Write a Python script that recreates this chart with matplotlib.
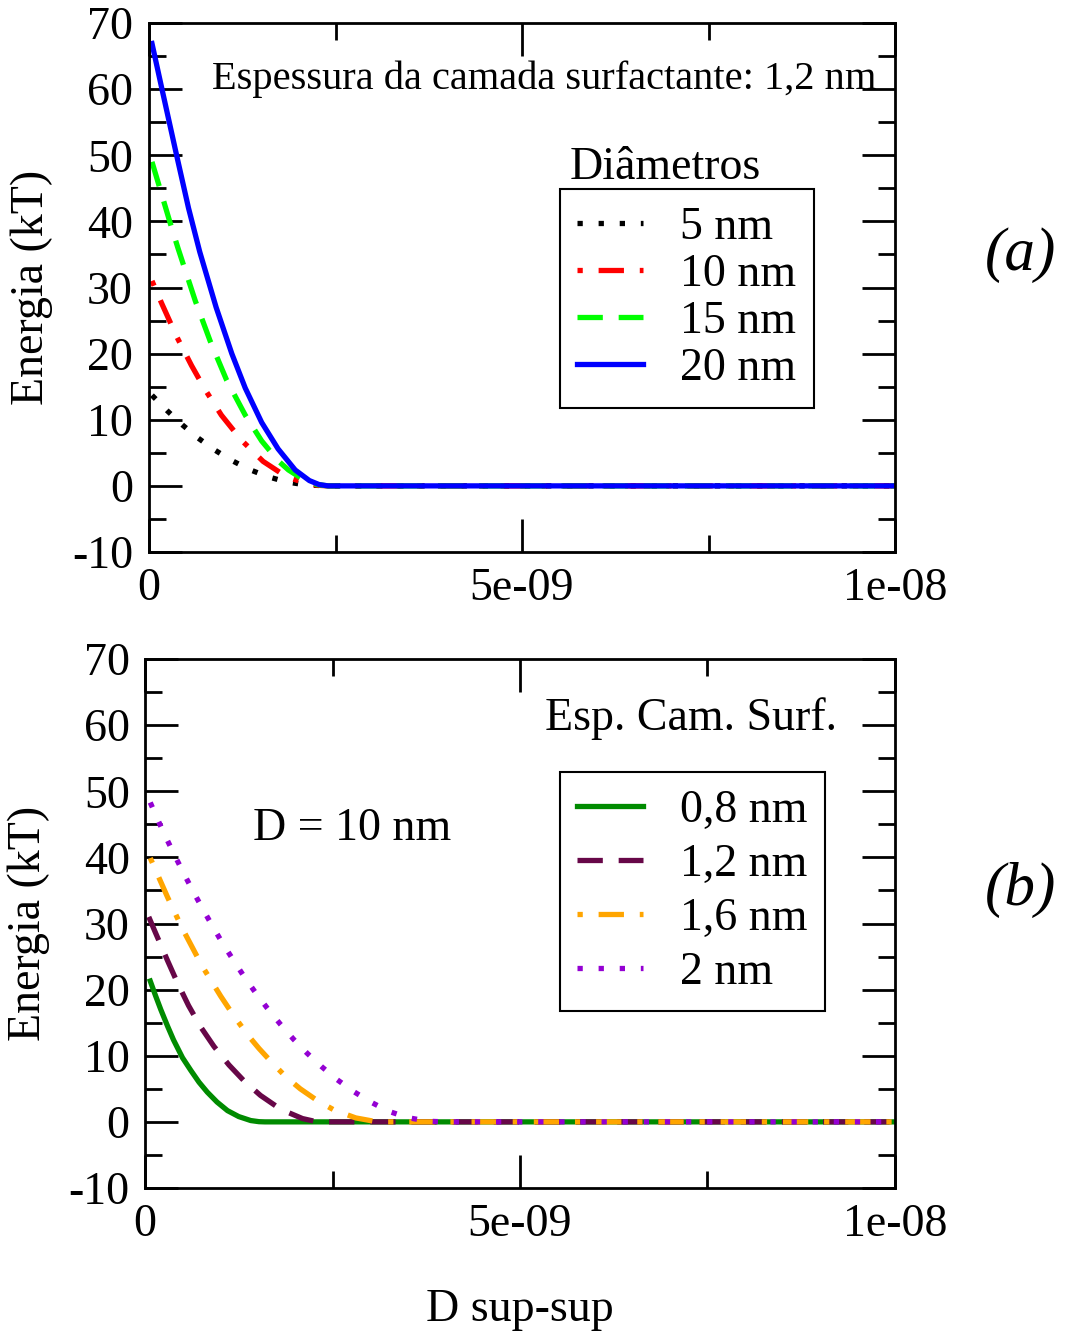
import numpy as np
import matplotlib
matplotlib.use("Agg")
from matplotlib import pyplot as plt

plt.rcParams['font.family'] = ['Liberation Serif', 'DejaVu Serif']
plt.rcParams['axes.unicode_minus'] = False

# panel (a): surfactant layer 1,2 nm, different diameters (x in nm, energy in kT)
s_5nm = [0.04, 0.25, 0.45, 0.65, 0.87, 1.10, 1.34, 1.59, 1.84, 2.10, 2.40, 10.0]
e_5nm = [13.7, 11.3, 9.2, 7.3, 5.5, 3.9, 2.5, 1.4, 0.6, 0.15, 0.0, 0.0]
s_10nm = [0.04, 0.17, 0.37, 0.57, 0.75, 0.97, 1.24, 1.53, 1.84, 2.10, 2.25, 2.40, 10.0]
e_10nm = [31.0, 27.6, 22.6, 18.2, 14.6, 10.7, 6.9, 3.7, 1.4, 0.4, 0.1, 0.0, 0.0]
s_15nm = [0.04, 0.28, 0.39, 0.62, 0.82, 1.04, 1.29, 1.51, 1.73, 1.87, 2.10, 2.25, 2.40, 10.0]
e_15nm = [49.0, 39.9, 35.9, 28.0, 21.9, 16.0, 10.7, 6.8, 3.8, 2.4, 0.75, 0.2, 0.0, 0.0]
s_20nm = [0.04, 0.17, 0.37, 0.53, 0.68, 0.90, 1.11, 1.29, 1.51, 1.73, 1.96, 2.15, 2.28, 2.40, 10.0]
e_20nm = [66.9, 60.2, 50.0, 42.0, 35.4, 27.0, 20.0, 14.8, 9.6, 5.6, 2.4, 0.8, 0.2, 0.0, 0.0]

# panel (b): D = 10 nm, different layer thicknesses
s_08 = [0.07, 0.14, 0.21, 0.30, 0.38, 0.50, 0.61, 0.72, 0.83, 0.96, 1.10, 1.25, 1.41,
        1.52, 1.60, 10.0]
e_08 = [21.3, 19.1, 17.0, 14.5, 12.4, 9.7, 7.8, 6.0, 4.5, 3.0, 1.7, 0.8, 0.2,
        0.03, 0.0, 0.0]
s_12 = [0.05, 0.14, 0.30, 0.43, 0.58, 0.74, 0.92, 1.12, 1.32, 1.54, 1.81, 2.10, 2.25, 2.40, 10.0]
e_12 = [31.0, 28.6, 24.4, 21.1, 17.6, 14.4, 11.4, 8.6, 6.2, 4.0, 1.9, 0.5, 0.12, 0.0, 0.0]
s_16 = [0.07, 0.30, 0.50, 0.76, 1.01, 1.18, 1.38, 1.52, 1.69, 1.88, 2.07, 2.30, 2.52,
        2.81, 3.05, 3.20, 10.0]
e_16 = [39.9, 34.0, 29.2, 23.6, 19.0, 16.1, 13.0, 11.1, 9.0, 6.8, 5.0, 3.2, 1.8,
        0.6, 0.1, 0.0, 0.0]
s_20 = [0.07, 0.17, 0.28, 0.40, 0.52, 0.64, 0.76, 0.89, 1.03, 1.17, 1.32, 1.47, 1.63,
        1.81, 1.98, 2.16, 2.35, 2.56, 2.78, 3.01, 3.25, 3.50, 3.77, 4.00, 10.0]
e_20 = [48.3, 45.7, 43.0, 40.2, 37.5, 34.9, 32.4, 29.8, 27.1, 24.6, 22.0, 19.6, 17.2,
        14.7, 12.5, 10.4, 8.4, 6.4, 4.6, 3.0, 1.6, 0.65, 0.1, 0.0, 0.0]

labels_a = ['5 nm', '10 nm', '15 nm', '20 nm']
labels_b = ['0,8 nm', '1,2 nm', '1,6 nm', '2 nm']
xticks = [0, 5e-9, 1e-8]
yticks = list(range(-10, 71, 10))

DOT = (0, (1, 3))
DASH = (0, (4.8, 3))
DASHDOT = (0, (1, 3, 4.8, 3))
LW = 3.8
FS = 33

W, H = 1065, 1331
fig = plt.figure(figsize=(W / 100, H / 100), dpi=100)


def px_axes(l, t, r, b):
    return fig.add_axes([l / W, 1 - b / H, (r - l) / W, (b - t) / H])


def style(ax, ypad):
    ax.set_xlim(0, 1e-8)
    ax.set_ylim(-10, 70)
    ax.set_xticks(xticks, [f'{v:g}' for v in xticks])
    ax.set_xticks([2.5e-9, 7.5e-9], minor=True)
    ax.set_yticks(yticks, [str(v) for v in yticks])
    ax.set_yticks(np.arange(-5, 70, 10), minor=True)
    ax.tick_params(which='both', direction='in', top=True, right=True, width=2,
                   labelsize=FS)
    ax.tick_params(which='major', length=24)
    ax.tick_params(which='minor', length=12)
    ax.tick_params(axis='x', pad=11)
    ax.tick_params(axis='y', pad=ypad)
    for sp in ax.spines.values():
        sp.set_linewidth(2)


def legend(ax, anchor, spacing):
    leg = ax.legend(loc='upper left', bbox_to_anchor=anchor, borderaxespad=0,
                    fontsize=FS, frameon=True, fancybox=False, edgecolor='black',
                    framealpha=1, handlelength=1.44, handletextpad=0.8,
                    borderpad=0.38, labelspacing=spacing)
    leg.get_frame().set_linewidth(1.5)


nm = 1e-9

# (a)
ax1 = px_axes(149, 23, 895, 552)
ax1.plot(np.array(s_5nm) * nm, e_5nm, color='black', lw=LW, ls=DOT, label=labels_a[0])
ax1.plot(np.array(s_10nm) * nm, e_10nm, color='#ff0000', lw=LW, ls=DASHDOT, label=labels_a[1])
ax1.plot(np.array(s_15nm) * nm, e_15nm, color='#00ff00', lw=LW, ls=DASH, label=labels_a[2])
ax1.plot(np.array(s_20nm) * nm, e_20nm, color='#0000ff', lw=LW, ls='-', label=labels_a[3])
style(ax1, 11.5)
ax1.set_ylabel('Energia (kT)', fontsize=FS)
ax1.yaxis.set_label_coords(-0.129, 0.5)
legend(ax1, ((560 - 149) / 746, (552 - 189) / 529), 0.1)

# (b)
ax2 = px_axes(145, 659, 895, 1188)
ax2.plot(np.array(s_08) * nm, e_08, color='#008b00', lw=LW, ls='-', label=labels_b[0])
ax2.plot(np.array(s_12) * nm, e_12, color='#670748', lw=LW, ls=DASH, label=labels_b[1])
ax2.plot(np.array(s_16) * nm, e_16, color='#ffa500', lw=LW, ls=DASHDOT, label=labels_b[2])
ax2.plot(np.array(s_20) * nm, e_20, color='#9400d3', lw=LW, ls=DOT, label=labels_b[3])
style(ax2, 11)
ax2.set_ylabel('Energia (kT)', fontsize=FS)
ax2.yaxis.set_label_coords(-0.127, 0.5)
ax2.set_xlabel('D sup-sup', fontsize=FS)
ax2.xaxis.set_label_coords(0.5, -0.19)
legend(ax2, ((560 - 145) / 750, (1188 - 772) / 529), 0.25)


def ftext(x, y, s, **kw):
    fig.text(x / W, 1 - y / H, s, va='baseline', ha='left', **kw)


ftext(212, 89, 'Espessura da camada surfactante: 1,2 nm', fontsize=29.2)
ftext(570, 179, 'Diâmetros', fontsize=FS)
ftext(545, 730, 'Esp. Cam. Surf.', fontsize=FS)
ftext(253, 840, 'D = 10 nm', fontsize=FS)
fig.text(985 / W, 1 - 255 / H, '(a)', fontsize=44, style='italic', va='center', ha='left')
fig.text(985 / W, 1 - 890 / H, '(b)', fontsize=44, style='italic', va='center', ha='left')

fig.savefig('out.png', dpi=100)
